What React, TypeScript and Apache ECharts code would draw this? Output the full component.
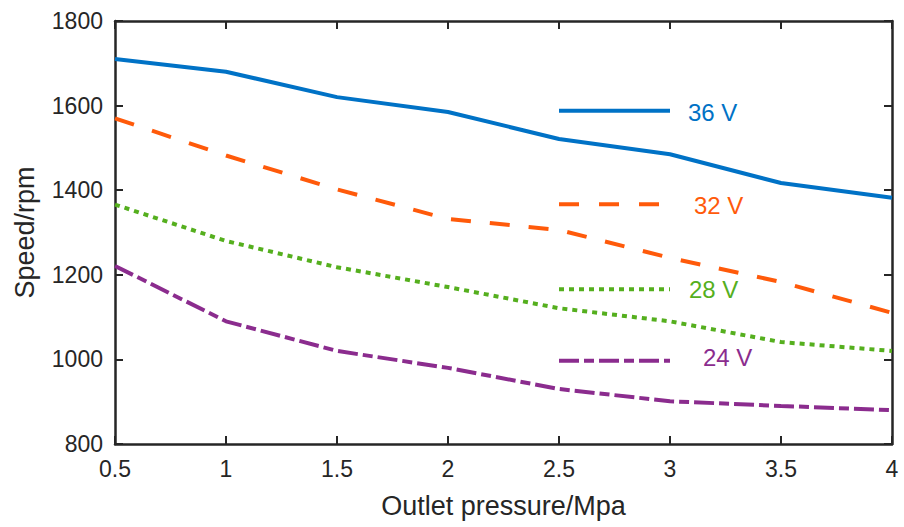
import React, { useEffect, useRef } from "react";
import * as echarts from "echarts";

const pressure = [0.5, 1, 1.5, 2, 2.5, 3, 3.5, 4];
const speed36 = [1710, 1680, 1620, 1585, 1521, 1485, 1417, 1382];
const speed32 = [1570, 1482, 1402, 1332, 1306, 1240, 1183, 1110];
const speed28 = [1366, 1280, 1218, 1171, 1121, 1090, 1041, 1020];
const speed24 = [1221, 1090, 1020, 980, 930, 901, 890, 880];

const seriesNames = ["36 V", "32 V", "28 V", "24 V"];
const legendX = [2.5, 3];
const legendY = [1588, 1367, 1166, 997];

const colors = ["#0072C6", "#FF5A0A", "#55AF1E", "#8B2C8E"];
const dashes: any[] = ["solid", [20, 19], [5, 5], [20, 5, 10, 5]];
const legendDashes: any[] = ["solid", [20, 20], [5, 5], [20, 5, 10, 5]];
const labelOffsets = [[18, 2], [24, 1], [19, 0], [33, -3]];

export default function App() {
  const ref = useRef<HTMLDivElement>(null);
  useEffect(() => {
    if (!ref.current) return;
    const chart = echarts.init(ref.current, null, { renderer: "svg" });
    const all = [speed36, speed32, speed28, speed24];
    const axisColor = "#262626";
    const font = "Liberation Sans, Arial, sans-serif";
    const series: any[] = [];
    all.forEach((vals, i) => {
      series.push({
        type: "line",
        name: seriesNames[i],
        data: pressure.map((p, j) => [p, vals[j]]),
        showSymbol: false,
        symbol: "none",
        lineStyle: { color: colors[i], width: 4, type: dashes[i], cap: "butt" },
        z: 3,
      });
      series.push({
        type: "line",
        name: seriesNames[i] + " key",
        data: [
          [legendX[0], legendY[i]],
          [legendX[1], legendY[i]],
        ],
        symbol: "none",
        showSymbol: false,
        lineStyle: { color: colors[i], width: 4, type: legendDashes[i], cap: "butt" },
        endLabel: {
          show: true,
          formatter: seriesNames[i],
          distance: 0,
          offset: labelOffsets[i],
          color: colors[i],
          fontSize: 24,
          fontFamily: font,
        },
        z: 3,
      });
    });
    const tickStyle = { show: true, inside: true, length: 8, lineStyle: { color: axisColor, width: 2 } };
    const lineStyle = { show: true, onZero: false, lineStyle: { color: axisColor, width: 2.5 } };
    chart.setOption({
      animation: false,
      backgroundColor: "#ffffff",
      grid: { left: 115, right: 12, top: 21, bottom: 83, containLabel: false },
      xAxis: [
        {
          type: "value",
          min: 0.5,
          max: 4,
          interval: 0.5,
          name: "Outlet pressure/Mpa",
          nameLocation: "middle",
          nameGap: 48,
          nameTextStyle: { color: axisColor, fontSize: 27, fontFamily: font },
          axisLine: lineStyle,
          axisTick: tickStyle,
          axisLabel: { color: axisColor, fontSize: 23, fontFamily: font, margin: 13 },
          splitLine: { show: false },
        },
        {
          type: "value",
          position: "top",
          min: 0.5,
          max: 4,
          interval: 0.5,
          axisLine: lineStyle,
          axisTick: tickStyle,
          axisLabel: { show: false },
          splitLine: { show: false },
        },
      ],
      yAxis: [
        {
          type: "value",
          min: 800,
          max: 1800,
          interval: 200,
          name: "Speed/rpm",
          nameLocation: "middle",
          nameGap: 77,
          nameTextStyle: { color: axisColor, fontSize: 27, fontFamily: font },
          axisLine: lineStyle,
          axisTick: tickStyle,
          axisLabel: {
            color: axisColor,
            fontSize: 23,
            fontFamily: font,
            margin: 12,
            formatter: (v: number) => String(v),
          },
          splitLine: { show: false },
        },
        {
          type: "value",
          position: "right",
          min: 800,
          max: 1800,
          interval: 200,
          axisLine: lineStyle,
          axisTick: tickStyle,
          axisLabel: { show: false },
          splitLine: { show: false },
        },
      ],
      series,
    });
    return () => chart.dispose();
  }, []);
  return <div ref={ref} style={{ width: 904, height: 527, position: "absolute", left: 0, top: 0 }} />;
}
